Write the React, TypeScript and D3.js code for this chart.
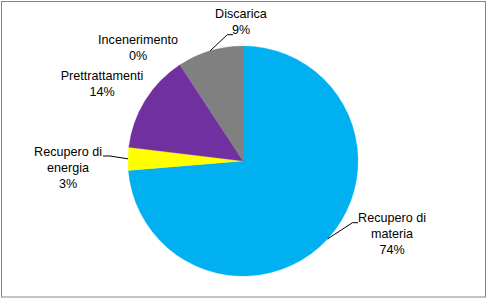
import React from "react";
import * as d3 from "d3";

const categories = ["Recupero di materia", "Recupero di energia", "Prettrattamenti", "Incenerimento", "Discarica"];
const values = [73.7, 3.2, 13.8, 0.1, 9.2];
const percentLabels = ["74%", "3%", "14%", "0%", "9%"];
const labelLines = [["Recupero di", "materia"], ["Recupero di", "energia"], ["Prettrattamenti"], ["Incenerimento"], ["Discarica"]];
const colors = ["#00B0F0", "#FFFF00", "#7030A0", "#7030A0", "#808080"];

const W = 487, H = 299;
const cx = 243, cy = 161, R = 115;

// label centers (x, first line y)
const labelPos = [
  { x: 392, y: 218 },
  { x: 68, y: 152 },
  { x: 102, y: 76 },
  { x: 138, y: 40 },
  { x: 241, y: 14 },
];
const leaders: ( { elbow: [number, number]; end: [number, number] } | null)[] = [
  { elbow: [352.5, 222.7], end: [358, 222.7] },
  { elbow: [110, 156], end: [103, 156] },
  null,
  null,
  { elbow: [227.3, 34.7], end: [233, 34.7] },
];

export default function App() {
  const pie = d3.pie<number>().sort(null).value((d) => d)(values);
  const arc = d3.arc<d3.PieArcDatum<number>>().innerRadius(0).outerRadius(R);
  const font = "'Liberation Sans', Arial, sans-serif";
  return (
    <svg width={W} height={H} style={{ position: "absolute", left: 0, top: 0 }}>
      <rect x={0} y={0} width={W} height={H} fill="#fff" />
      <rect x={1.5} y={1.5} width={484} height={295.5} fill="none" stroke="#868686" strokeWidth={1} />
      <g transform={`translate(${cx},${cy})`}>
        {pie.map((p, i) => (
          <path key={i} d={arc(p) || ""} fill={colors[i]} stroke={colors[i]} strokeWidth={0.3} />
        ))}
      </g>
      {pie.map((p, i) => {
        const l = leaders[i];
        if (!l) return null;
        const mid = (p.startAngle + p.endAngle) / 2;
        const sx = cx + Math.sin(mid) * R;
        const sy = cy - Math.cos(mid) * R;
        return (
          <polyline key={i} points={`${sx},${sy} ${l.elbow[0]},${l.elbow[1]} ${l.end[0]},${l.end[1]}`} fill="none" stroke="#000" strokeWidth={1} />
        );
      })}
      {categories.map((c, i) => {
        const lines = [...labelLines[i], percentLabels[i]];
        return (
          <text key={c} textAnchor="middle" fontFamily={font} fontSize={12.6} fill="#000">
            {lines.map((t, j) => (
              <tspan key={j} x={labelPos[i].x} y={labelPos[i].y + j * 16} dy="0.35em">{t}</tspan>
            ))}
          </text>
        );
      })}
    </svg>
  );
}
